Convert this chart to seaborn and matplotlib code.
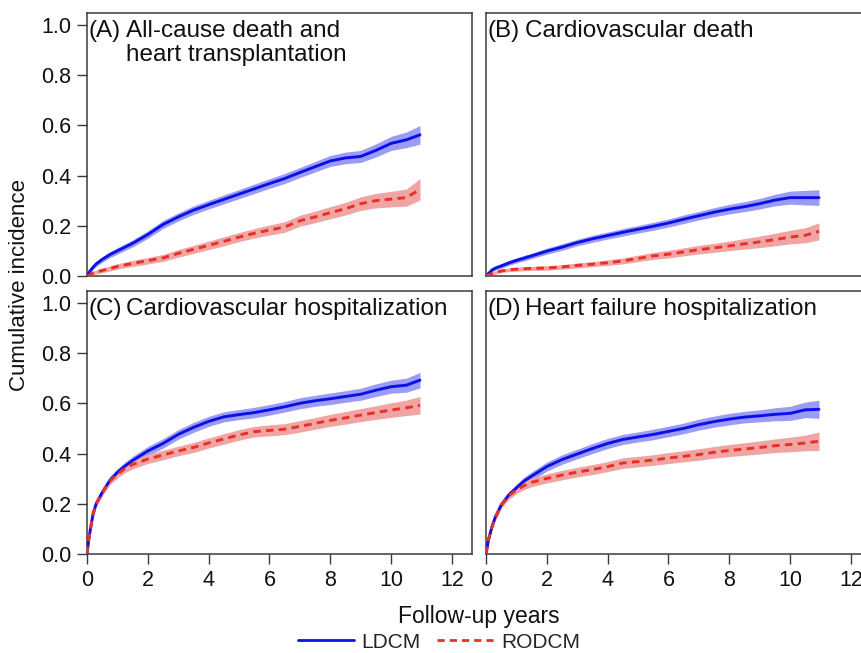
import numpy as np
import pandas as pd
import matplotlib
matplotlib.use("Agg")
import matplotlib.pyplot as plt
import seaborn as sns

# ---------------- data ----------------
years = [0, 0.05, 0.1, 0.2, 0.3, 0.5, 0.75, 1, 1.25, 1.5, 2, 2.5, 3, 3.5, 4, 4.5,
         5, 5.5, 6, 6.5, 7, 7.5, 8, 8.5, 9, 9.5, 10, 10.5, 10.95]

groups = ["LDCM", "RODCM"]
panel_titles = ["All-cause death and\nheart transplantation", "Cardiovascular death",
                "Cardiovascular hospitalization", "Heart failure hospitalization"]
panel_tags = ["(A)", "(B)", "(C)", "(D)"]

a_ldcm = [0, 0.01, 0.02, 0.035, 0.048, 0.066, 0.085, 0.1, 0.115, 0.13, 0.165, 0.205, 0.235, 0.262, 0.284, 0.305,
          0.326, 0.347, 0.368, 0.388, 0.412, 0.435, 0.458, 0.47, 0.476, 0.5, 0.528, 0.542, 0.562]
a_rodcm = [0, 0.002, 0.005, 0.012, 0.016, 0.022, 0.03, 0.038, 0.044, 0.05, 0.061, 0.072, 0.09, 0.106, 0.122, 0.138,
           0.155, 0.17, 0.183, 0.195, 0.22, 0.235, 0.252, 0.268, 0.288, 0.3, 0.306, 0.312, 0.345]
b_ldcm = [0, 0.006, 0.012, 0.024, 0.031, 0.04, 0.052, 0.062, 0.071, 0.08, 0.099, 0.115, 0.133, 0.148, 0.161, 0.174,
          0.186, 0.198, 0.211, 0.226, 0.24, 0.254, 0.266, 0.276, 0.288, 0.302, 0.312, 0.312, 0.312]
b_rodcm = [0, 0.002, 0.005, 0.01, 0.014, 0.02, 0.025, 0.027, 0.029, 0.03, 0.032, 0.036, 0.042, 0.047, 0.053, 0.06,
           0.07, 0.08, 0.087, 0.096, 0.105, 0.112, 0.12, 0.128, 0.136, 0.145, 0.155, 0.162, 0.178]
c_ldcm = [0, 0.05, 0.09, 0.16, 0.2, 0.245, 0.293, 0.325, 0.35, 0.372, 0.41, 0.44, 0.476, 0.504, 0.528, 0.546,
          0.555, 0.563, 0.574, 0.586, 0.6, 0.61, 0.618, 0.627, 0.636, 0.652, 0.666, 0.672, 0.692]
c_rodcm = [0, 0.05, 0.09, 0.16, 0.2, 0.245, 0.29, 0.318, 0.34, 0.356, 0.378, 0.394, 0.41, 0.424, 0.442, 0.458,
           0.474, 0.487, 0.492, 0.497, 0.508, 0.52, 0.532, 0.542, 0.553, 0.563, 0.573, 0.582, 0.592]
d_ldcm = [0, 0.035, 0.065, 0.11, 0.145, 0.195, 0.235, 0.263, 0.29, 0.31, 0.348, 0.376, 0.398, 0.42, 0.44, 0.456,
          0.466, 0.476, 0.488, 0.5, 0.515, 0.527, 0.537, 0.545, 0.55, 0.556, 0.56, 0.574, 0.576]
d_rodcm = [0, 0.035, 0.065, 0.11, 0.145, 0.195, 0.232, 0.255, 0.272, 0.285, 0.301, 0.314, 0.326, 0.336, 0.348, 0.362,
           0.368, 0.374, 0.382, 0.389, 0.396, 0.405, 0.412, 0.418, 0.424, 0.431, 0.436, 0.442, 0.449]

# half-widths of the confidence bands
a_ldcm_ci = [0, 0.005, 0.007, 0.009, 0.01, 0.011, 0.012, 0.013, 0.013, 0.014, 0.015, 0.016, 0.016, 0.017, 0.017,
             0.018, 0.018, 0.019, 0.019, 0.02, 0.02, 0.021, 0.022, 0.023, 0.024, 0.026, 0.028, 0.031, 0.037]
a_rodcm_ci = [0, 0.004, 0.005, 0.007, 0.008, 0.009, 0.01, 0.011, 0.011, 0.012, 0.013, 0.014, 0.015, 0.016, 0.017,
              0.018, 0.018, 0.019, 0.02, 0.021, 0.022, 0.023, 0.024, 0.025, 0.027, 0.029, 0.031, 0.034, 0.043]
b_ldcm_ci = [0, 0.004, 0.005, 0.007, 0.008, 0.009, 0.01, 0.01, 0.011, 0.011, 0.012, 0.013, 0.013, 0.014, 0.014,
             0.015, 0.015, 0.016, 0.016, 0.017, 0.017, 0.018, 0.019, 0.02, 0.021, 0.023, 0.026, 0.029, 0.031]
b_rodcm_ci = [0, 0.003, 0.004, 0.005, 0.006, 0.007, 0.007, 0.008, 0.008, 0.008, 0.009, 0.009, 0.01, 0.01, 0.011,
              0.012, 0.013, 0.014, 0.015, 0.016, 0.017, 0.018, 0.019, 0.021, 0.023, 0.025, 0.027, 0.03, 0.034]
c_ldcm_ci = [0, 0.007, 0.009, 0.011, 0.012, 0.013, 0.014, 0.015, 0.016, 0.017, 0.018, 0.019, 0.019, 0.02, 0.02,
             0.02, 0.02, 0.021, 0.021, 0.021, 0.022, 0.022, 0.023, 0.023, 0.024, 0.025, 0.026, 0.028, 0.031]
c_rodcm_ci = [0, 0.007, 0.009, 0.011, 0.012, 0.013, 0.014, 0.015, 0.016, 0.017, 0.018, 0.019, 0.019, 0.02, 0.02,
              0.021, 0.021, 0.021, 0.022, 0.022, 0.023, 0.023, 0.024, 0.025, 0.026, 0.027, 0.029, 0.031, 0.035]
d_ldcm_ci = [0, 0.007, 0.009, 0.011, 0.012, 0.013, 0.014, 0.015, 0.016, 0.017, 0.018, 0.019, 0.019, 0.02, 0.02,
             0.02, 0.02, 0.021, 0.021, 0.021, 0.022, 0.022, 0.023, 0.023, 0.024, 0.026, 0.028, 0.031, 0.036]
d_rodcm_ci = [0, 0.007, 0.009, 0.011, 0.012, 0.013, 0.014, 0.015, 0.016, 0.017, 0.018, 0.019, 0.019, 0.02, 0.02,
              0.021, 0.021, 0.021, 0.022, 0.022, 0.023, 0.023, 0.024, 0.025, 0.026, 0.027, 0.029, 0.031, 0.037]

x_ticks = [0, 2, 4, 6, 8, 10, 12]
y_ticks = [0.0, 0.2, 0.4, 0.6, 0.8, 1.0]
y_tick_labels = ["0.0", "0.2", "0.4", "0.6", "0.8", "1.0"]

panels = [
    (a_ldcm, a_rodcm, a_ldcm_ci, a_rodcm_ci),
    (b_ldcm, b_rodcm, b_ldcm_ci, b_rodcm_ci),
    (c_ldcm, c_rodcm, c_ldcm_ci, c_rodcm_ci),
    (d_ldcm, d_rodcm, d_ldcm_ci, d_rodcm_ci),
]

# ---------------- style ----------------
sns.set_theme(style="ticks")
plt.rcParams["font.family"] = ["Liberation Sans", "DejaVu Sans"]
edge = "#3a3a3a"

line_colors = {"LDCM": "#0a10e8", "RODCM": "#e8302a"}
band_colors = {"LDCM": "#9c9cf4", "RODCM": "#f1a5a3"}
dashes = {"LDCM": "", "RODCM": (2.6, 1.8)}

fig = plt.figure(figsize=(8.61, 6.53), dpi=100)
W, H = 861, 653
lefts = [87, 486, 87, 486]
tops = [13, 13, 291, 291]
aw, ah = 385, 263

axes = []
for i in range(4):
    ax = fig.add_axes([lefts[i] / W, 1 - (tops[i] + ah) / H, aw / W, ah / H])
    axes.append(ax)

for i, ax in enumerate(axes):
    ld, ro, ld_ci, ro_ci = panels[i]
    df = pd.DataFrame({
        "years": years * 2,
        "incidence": ld + ro,
        "half": ld_ci + ro_ci,
        "group": ["LDCM"] * len(years) + ["RODCM"] * len(years),
    })
    for g in groups:
        sub = df[df["group"] == g]
        ax.fill_between(sub["years"], sub["incidence"] - sub["half"], sub["incidence"] + sub["half"],
                        color=band_colors[g], lw=0, zorder=1)
    sns.lineplot(data=df, x="years", y="incidence", hue="group", style="group",
                 palette=line_colors, dashes=dashes, linewidth=2.1, estimator=None,
                 ax=ax, legend=False, zorder=3)

    ax.set_xlim(0, 12.66)
    ax.set_ylim(0, 1.047)
    ax.set_xticks(x_ticks)
    ax.set_yticks(y_ticks)
    ax.set_xlabel("")
    ax.set_ylabel("")
    for sp in ax.spines.values():
        sp.set_visible(True)
        sp.set_color(edge)
        sp.set_linewidth(1.1)
    ax.tick_params(axis="both", direction="out", length=7.5, width=1.0, color=edge,
                   labelsize=15.5, pad=4, labelcolor="#111111")
    if i in (0, 2):
        ax.set_yticklabels(y_tick_labels)
    else:
        ax.tick_params(axis="y", left=False, labelleft=False)
    if i in (2, 3):
        ax.set_xticklabels([str(v) for v in x_ticks])
    else:
        ax.tick_params(axis="x", bottom=False, labelbottom=False)

    ax.text(0.004, 0.973, panel_tags[i], transform=ax.transAxes, ha="left", va="top",
            fontsize=17.5, color="#111111")
    ax.text(0.102, 0.973, panel_titles[i], transform=ax.transAxes, ha="left", va="top",
            fontsize=17.5, color="#111111", linespacing=1.12)

fig.text(479 / W, 1 - 617 / H, "Follow-up years", ha="center", va="center", fontsize=16.5, color="#111111")
fig.text(20 / W, 1 - 285 / H, "Cumulative incidence", ha="center", va="center", rotation=90,
         fontsize=16, color="#111111")

handles = [plt.Line2D([], [], color=line_colors["LDCM"], lw=2.0),
           plt.Line2D([], [], color=line_colors["RODCM"], lw=2.0, dashes=(2.6, 1.8))]
fig.legend(handles, groups, loc="center", bbox_to_anchor=(439 / W, 1 - 642 / H), ncol=2, frameon=False,
           fontsize=15, handlelength=2.7, handletextpad=0.35, columnspacing=0.8, borderpad=0)

fig.savefig("out.png", dpi=100)
